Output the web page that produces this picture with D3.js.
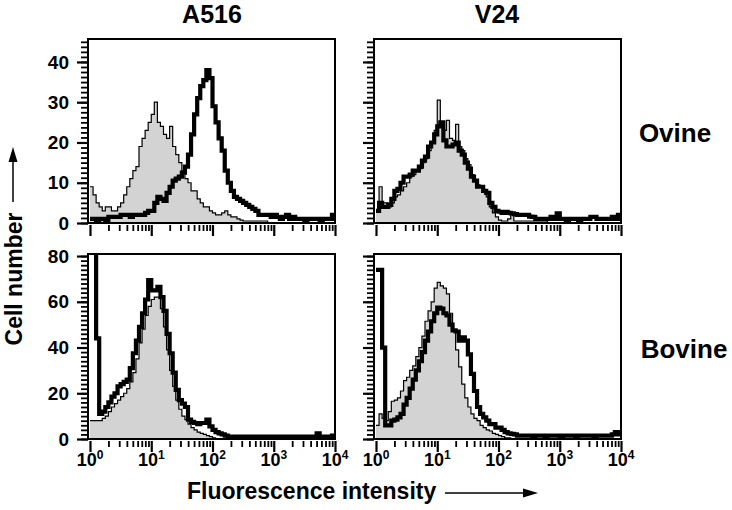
<!DOCTYPE html>
<html><head><meta charset="utf-8">
<script src="https://cdn.jsdelivr.net/npm/d3@7"></script>
<style>
body{margin:0;background:#fff}
svg{display:block}
text{font-family:"Liberation Sans",Arial,Helvetica,sans-serif;font-weight:bold;fill:#000}
</style>
</head><body>
<svg id="chart" width="732" height="510"></svg>
<script>
// ---------- data (bins of 0.05 decade from 10^0 to 10^4) ----------
const columnTitles = ["A516", "V24"];
const rowTitles = ["Ovine", "Bovine"];
const xTickExponents = ["0", "1", "2", "3", "4"];
const yTicksTop = [0, 10, 20, 30, 40];
const yTicksBottom = [0, 20, 40, 60, 80];
const binWidthDecades = 0.05;

const ovineA516Control = [9,7,5,4,3,4,4,3,3,4,5,7,9,11,13,14,19,21,23,25,27,30,25,24,22,21,24,19,17,15,13,11,10,8,8,6,5,4,4,3,2.5,2,2,2.5,3,2,1.5,1.5,1,0.7,0.5,0.5,0.5,0.5,0.5,0.5,0.5,0.5,0,0,0,0,0,0,0,0,0,0,0,0,0,0,0,0,0,0,0,0,0,0];
const ovineA516Stained = [1,1,0.5,1,1,0.5,1.5,1.5,1.5,1.5,2,2,2,1.5,2,2,2,2,2.5,3,3,5,6.5,6,5.5,7.5,9,10.5,11,11.5,12.5,14,17,22,27,31,34,35.5,38,36,29,25,21,18,13,10,8,6.5,6,5.5,5,4.5,4,3.5,3,2,2,2,2,1.5,2,1.5,1,1.5,2,1,1.5,1,1,1,0.5,1,1,1,1,0.5,1,1,1,2];

const ovineV24Control = [3,9,5,5,4,5,6.5,7,8,9,10,11.5,12,13,13.5,15,16,18,20,23,30.5,24.5,23,25.5,21,20.5,24.5,19,18,16,14.5,12,10.5,9.5,9,8,6.5,4,2.5,1.5,0.7,0.5,0.5,1,2.5,0.5,0.5,0.5,0.5,0.5,0.5,0.5,0.5,0.5,0.5,0.5,0,0,0,0,0,0,0,0,0,0,0,0,0,0,0,0,0,0,0,0,0,0,0,0];
const ovineV24Stained = [3,5,4,4,4.5,6,8,8.5,10,11.5,11.5,12,13,13,14,15.5,16.5,19,20,22,24,25,20.5,19,19,19.5,20,18,17,15,13.5,11.5,10.5,9,9,8,7.5,5,4,3,2.8,2.5,2.8,2.5,2.4,2.2,2,2,2,2,1.6,1.5,1,1,1,1,1,1.5,1,2.4,1,1,0.5,1,1,1,0.5,1,1,1,1.5,1.5,1,1,1,1,1,1.5,1,2];

const bovineA516Control = [8,8,8,8,9,10,12,14,15.5,17,18.5,20,22,25,29,35,42,48,54,58,61,62,62,57,49,39,30,23,17,13,10,8.5,6.5,5,4,3,2.5,2,1.5,1,0.5,0,0,0,0,0,0,0,0,0,0,0,0,0,0,0,0,0,0,0,0,0,0,0,0,0,0,0,0,0,0,0,0,0,0,0,0,0,0,0];
const bovineA516Stained = [85,85,44,11,12,14,16,18.5,20,23,24,25,26,31,37.5,43,49,55,61,69.5,65,65,66.5,62,56,46,37.5,29,21.5,17,15.5,14,8.5,7.5,7,6.5,7,7,8.5,5.5,4,3,2.5,2,1.5,1,1,1,1,1,1,1,1,1,1,1,1,1,1,1,1,1,1,1,1,1,1,1,1,1,1,1,1,1,2.5,1,1,1,1,1.5];

const bovineV24Control = [6,11,9,8,12,16.5,17,18,21,25.5,27,30,32,36,40,45,51.5,56,60,66,68.5,67,66,63.5,55,47.5,39,31.5,24,18,14,11,9,8,6,5,4,3.5,2.5,2,1.5,1,0.5,0.5,0,0,0,0,0,0,0,0,0,0,0,0,0,0,0,0,0,0,0,0,0,0,0,0,0,0,0,0,0,0,0,0,0,0,0,0];
const bovineV24Stained = [74,74,40,6,6,8,8.5,9.5,11,15,18,22,26,30,34,38,43,47,51.5,55,57.5,57,55,54,50,47.5,47,43,44.5,43,37,28.5,21,14,11,9.5,8,6.5,6.5,5,5,4,3,2.5,2.2,2,1.5,1.5,1.5,1.5,1.5,1,1.5,1.5,1.5,1,1.5,1.5,1.5,1.5,1,1.5,1.5,1.5,1.5,1,1.5,1.5,1.5,1.5,1.5,1,1.5,1.5,1.5,1.5,1.5,2,3,2];

// ---------- layout ----------
const colLeft = [88, 374];
const panelWidth = 247;
const rowBox = [{top: 39, bottom: 223, ymax: 45.7, ticks: yTicksTop, minorStep: 1.25},
                {top: 254, bottom: 439, ymax: 80.9, ticks: yTicksBottom, minorStep: 2}];
const panelData = [
  [ovineA516Control, ovineA516Stained, ovineV24Control, ovineV24Stained],
  [bovineA516Control, bovineA516Stained, bovineV24Control, bovineV24Stained]
];

const svg = d3.select("#chart");

const decadeMinor = [];
for (let d = 0; d < 4; d++) for (let m = 2; m <= 9; m++) decadeMinor.push(m * Math.pow(10, d));
const decadeMajor = xTickExponents.map(e => Math.pow(10, +e));

rowBox.forEach((rb, r) => {
  columnTitles.forEach((ct, c) => {
    const left = colLeft[c], right = left + panelWidth;
    const x = d3.scaleLog().domain([1, 10000]).range([left + 2, right]);
    const y = d3.scaleLinear().domain([0, rb.ymax]).range([rb.bottom, rb.top]);
    const g = svg.append("g");
    const clipId = `clip${r}${c}`;
    g.append("clipPath").attr("id", clipId).append("rect")
      .attr("x", left).attr("y", rb.top).attr("width", panelWidth).attr("height", rb.bottom - rb.top);

    const control = panelData[r][c * 2];
    const stained = panelData[r][c * 2 + 1];
    const toPts = arr => {
      const pts = arr.map((v, i) => [Math.pow(10, i * binWidthDecades), v]);
      pts.push([Math.pow(10, arr.length * binWidthDecades), arr[arr.length - 1]]);
      return pts;
    };
    const area = d3.area().curve(d3.curveStepAfter)
      .x(d => x(d[0])).y0(y(0)).y1(d => y(d[1]));
    const line = d3.line().curve(d3.curveStepAfter)
      .x(d => x(d[0])).y(d => y(d[1]));

    const hg = g.append("g").attr("clip-path", `url(#${clipId})`);
    hg.append("path").attr("d", area(toPts(control))).attr("fill", "#d3d3d3").attr("stroke", "none");
    hg.append("path").attr("d", line(toPts(stained))).attr("fill", "none")
      .attr("stroke", "#000").attr("stroke-width", 4.2).attr("stroke-linejoin", "miter");
    hg.append("path").attr("d", line(toPts(control))).attr("fill", "none")
      .attr("stroke", "#000").attr("stroke-width", 1.2);

    // box
    g.append("rect").attr("x", left).attr("y", rb.top).attr("width", panelWidth)
      .attr("height", rb.bottom - rb.top).attr("fill", "none").attr("stroke", "#000").attr("stroke-width", 2);

    // y axis: minor + major ticks
    const minorY = d3.range(0, rb.ymax, rb.minorStep);
    const yMinor = g.append("g").attr("transform", `translate(${left},0)`)
      .call(d3.axisLeft(y).tickValues(minorY).tickSize(7).tickFormat(""));
    yMinor.select(".domain").remove();
    yMinor.selectAll("line").attr("stroke-width", 1.8);
    const yMajor = g.append("g").attr("transform", `translate(${left},0)`)
      .call(d3.axisLeft(y).tickValues(rb.ticks).tickSize(11).tickPadding(8)
        .tickFormat(c === 0 ? d3.format("d") : ""));
    yMajor.select(".domain").remove();
    yMajor.selectAll("line").attr("stroke-width", 2.2);
    yMajor.selectAll("text").attr("font-size", 19).attr("font-family", null);

    // x axis: minor + major ticks
    const xg0 = rb.bottom + 2;
    const xMinor = g.append("g").attr("transform", `translate(0,${xg0})`)
      .call(d3.axisBottom(x).tickValues(decadeMinor).tickSize(6).tickFormat(""));
    xMinor.select(".domain").remove();
    xMinor.selectAll("line").attr("stroke-width", 1.8);
    const xMajor = g.append("g").attr("transform", `translate(0,${xg0})`)
      .call(d3.axisBottom(x).tickValues(decadeMajor).tickSize(11).tickFormat(""));
    xMajor.select(".domain").remove();
    xMajor.selectAll("line").attr("stroke-width", 2.2);

    if (r === 1) {
      decadeMajor.forEach((v, i) => {
        const t = g.append("text").attr("x", x(v)).attr("y", rb.bottom + 27)
          .attr("text-anchor", "middle").attr("font-size", 18);
        t.append("tspan").text("10");
        t.append("tspan").attr("font-size", 12).attr("dy", -7).text(xTickExponents[i]);
      });
    }
  });
});

// column titles
svg.append("text").attr("x", 212).attr("y", 23).attr("text-anchor", "middle").attr("font-size", 25).text(columnTitles[0]);
svg.append("text").attr("x", 497).attr("y", 23).attr("text-anchor", "middle").attr("font-size", 25).text(columnTitles[1]);
// row titles
svg.append("text").attr("x", 675).attr("y", 142).attr("text-anchor", "middle").attr("font-size", 26).text(rowTitles[0]);
svg.append("text").attr("x", 684).attr("y", 358).attr("text-anchor", "middle").attr("font-size", 26).text(rowTitles[1]);

// y axis title with arrow
svg.append("text").attr("transform", "translate(22,279) rotate(-90)").attr("text-anchor", "middle")
  .attr("font-size", 23).text("Cell number");
svg.append("line").attr("x1", 13).attr("x2", 13).attr("y1", 202).attr("y2", 158).attr("stroke", "#000").attr("stroke-width", 1.5);
svg.append("path").attr("d", "M13,147 L8.5,162 L17.5,162 Z").attr("fill", "#000");

// x axis title with arrow
svg.append("text").attr("x", 187).attr("y", 499).attr("font-size", 23).text("Fluorescence intensity");
svg.append("line").attr("x1", 445).attr("x2", 528).attr("y1", 493).attr("y2", 493).attr("stroke", "#000").attr("stroke-width", 1.5);
svg.append("path").attr("d", "M538,493 L523,488.5 L523,497.5 Z").attr("fill", "#000");
</script>
</body></html>
